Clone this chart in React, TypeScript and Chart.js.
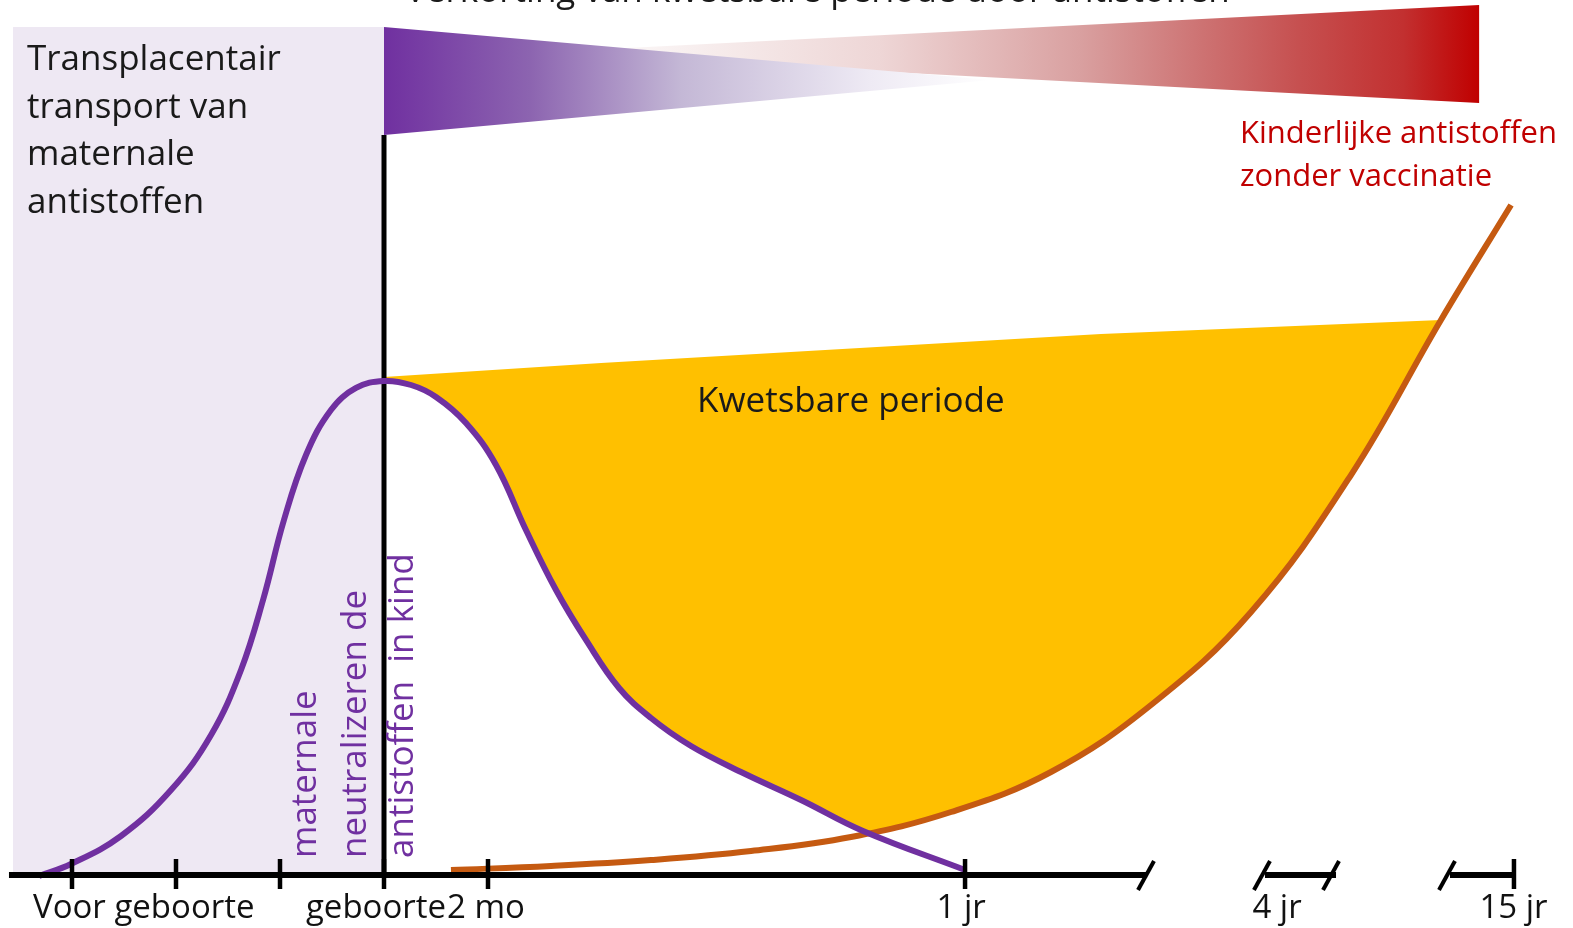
import React, { useEffect, useRef } from "react";
import { Chart, registerables } from "chart.js";

Chart.register(...registerables);

// Timeline: birth = 0, one tick step = 1 unit. Level: 0 = axis, 100 = top of figure.
const purpleX = [-3.317, -3.01, -2.529, -2.048, -1.663, -1.375, -1.163, -0.962, -0.75, -0.51, -0.269, 0, 0.26, 0.5, 0.788, 1.077, 1.365, 1.654, 1.942, 2.26, 2.567, 2.952, 3.433, 4.01, 4.606, 5.587];
const purpleY = [-0.11, 1.26, 4.46, 9.71, 16.0, 23.43, 31.43, 40.57, 48.0, 53.14, 55.66, 56.46, 56.0, 54.63, 51.66, 46.86, 39.43, 32.57, 26.86, 21.37, 17.94, 14.74, 11.77, 8.57, 5.03, 0.57];

const orangeX = [0.644, 1.606, 2.567, 3.529, 4.49, 5.452, 6.413, 7.375, 8.337, 9.298, 10.163, 10.837];
const orangeY = [0.57, 1.03, 1.71, 2.74, 4.34, 7.2, 11.77, 19.43, 30.06, 45.71, 63.43, 76.57];

const gapTopX = [0, 2.087, 6.894, 10.163];
const gapTopY = [56.91, 58.51, 61.83, 63.43];

const tickPositions = [-3, -2, -1, 0, 1, 5.587, 10.865];
const axisLabels = ["Voor geboorte", "geboorte", "2 mo", "1 jr", "4 jr", "15 jr"];
const axisLabelPositions = [-2.31, -0.077, 0.98, 5.55, 8.587, 10.86];
const axisSegmentStarts = [-3.606, 8.471, 10.25];
const axisSegmentEnds = [7.337, 9.154, 10.865];
const breakPositions = [7.327, 8.442, 9.106, 10.221];

const leftTextLines = ["Transplacentair", "transport van", "maternale", "antistoffen"];
const rotatedTexts = ["maternale", "neutralizeren de", "antistoffen  in kind"];
const childTextLines = ["Kinderlijke antistoffen", "zonder vaccinatie"];
const gapLabel = "Kwetsbare periode";
const titleText = "Verkorting van kwetsbare periode door antistoffen";

const PURPLE = "#7030A0";
const ORANGE = "#C55A11";
const YELLOW = "#FFC000";
const LAVENDER = "#EEE8F3";
const RED = "#C00000";
const FONT = '"Open Sans", "DejaVu Sans", sans-serif';

const pts = (xs: number[], ys: number[]) => xs.map((x, i) => ({ x, y: ys[i] }));

const overlay = {
  id: "overlay",
  beforeDatasetsDraw(chart: any) {
    const { ctx } = chart;
    const X = (v: number) => chart.scales.x.getPixelForValue(v);
    const Y = (v: number) => chart.scales.y.getPixelForValue(v);
    ctx.save();
    // lavender prenatal region
    ctx.fillStyle = LAVENDER;
    ctx.fillRect(X(-3.567), Y(96.91), X(0) - X(-3.567), Y(0) - Y(96.91));

    // red wedge (child antibodies)
    const rg = ctx.createLinearGradient(X(1.385), 0, X(10.53), 0);
    rg.addColorStop(0, "#FFFFFF");
    rg.addColorStop(0.16, "#F8F0F0");
    rg.addColorStop(0.37, "#EED6D6");
    rg.addColorStop(0.58, "#D9A0A0");
    rg.addColorStop(0.71, "#CD7272");
    rg.addColorStop(0.81, "#C65050");
    rg.addColorStop(0.92, "#C23030");
    rg.addColorStop(1, RED);
    ctx.fillStyle = rg;
    ctx.beginPath();
    ctx.moveTo(X(1.385), Y(93.94));
    ctx.lineTo(X(10.53), Y(99.43));
    ctx.lineTo(X(10.53), Y(88.23));
    ctx.closePath();
    ctx.fill();

    // purple wedge (maternal antibodies)
    const pg = ctx.createLinearGradient(X(0), 0, X(5.84), 0);
    pg.addColorStop(0, PURPLE);
    pg.addColorStop(0.24, "#8C64B0");
    pg.addColorStop(0.49, "#C4B8D6");
    pg.addColorStop(0.8, "#EEEAF4");
    pg.addColorStop(1, "#FFFFFF");
    ctx.fillStyle = pg;
    ctx.beginPath();
    ctx.moveTo(X(0), Y(96.91));
    ctx.lineTo(X(5.84), Y(90.86));
    ctx.lineTo(X(0), Y(84.57));
    ctx.closePath();
    ctx.fill();
    ctx.restore();
  },
  afterDatasetDraw(chart: any, args: any) {
    if (args.index !== 2) return;
    const { ctx } = chart;
    const X = (v: number) => chart.scales.x.getPixelForValue(v);
    const Y = (v: number) => chart.scales.y.getPixelForValue(v);
    ctx.save();
    ctx.strokeStyle = "#000";
    ctx.lineWidth = 5;
    ctx.beginPath();
    ctx.moveTo(X(0), Y(84.57));
    ctx.lineTo(X(0), Y(0));
    ctx.stroke();
    ctx.restore();
  },
  afterDatasetsDraw(chart: any) {
    const { ctx } = chart;
    const X = (v: number) => chart.scales.x.getPixelForValue(v);
    const Y = (v: number) => chart.scales.y.getPixelForValue(v);
    const y0 = Y(0);
    ctx.save();
    // axis segments
    ctx.strokeStyle = "#000";
    ctx.lineWidth = 6;
    ctx.lineCap = "butt";
    axisSegmentStarts.forEach((s, i) => {
      ctx.beginPath();
      ctx.moveTo(X(s), y0);
      ctx.lineTo(X(axisSegmentEnds[i]), y0);
      ctx.stroke();
    });
    // ticks
    ctx.lineWidth = 4.5;
    tickPositions.forEach((t) => {
      ctx.beginPath();
      ctx.moveTo(X(t), y0 - 16);
      ctx.lineTo(X(t), y0 + 14);
      ctx.stroke();
    });
    // break slashes
    ctx.lineWidth = 4;
    breakPositions.forEach((b) => {
      ctx.beginPath();
      ctx.moveTo(X(b) - 8, y0 + 15);
      ctx.lineTo(X(b) + 8, y0 - 14);
      ctx.stroke();
    });
    // axis labels
    ctx.fillStyle = "#111";
    ctx.font = `33px ${FONT}`;
    ctx.textAlign = "center";
    ctx.textBaseline = "alphabetic";
    axisLabels.forEach((l, i) => ctx.fillText(l, X(axisLabelPositions[i]), y0 + 43));

    // left block text
    ctx.textAlign = "left";
    ctx.font = `35px ${FONT}`;
    ctx.fillStyle = "#1a1a1a";
    leftTextLines.forEach((l, i) => ctx.fillText(l, 27, 70 + i * 47.7));

    // title (cropped at top)
    ctx.fillText(titleText, 405, 2);

    // vulnerable period label
    ctx.fillText(gapLabel, 697, 412);

    // child antibodies label
    ctx.fillStyle = RED;
    ctx.font = `31px ${FONT}`;
    childTextLines.forEach((l, i) => ctx.fillText(l, 1240, 143 + i * 43));

    // rotated purple labels
    ctx.fillStyle = PURPLE;
    ctx.font = `35px ${FONT}`;
    const baseXs = [316, 366, 413];
    rotatedTexts.forEach((t, i) => {
      ctx.save();
      ctx.translate(baseXs[i], 858);
      ctx.rotate(-Math.PI / 2);
      ctx.fillText(t, 0, 0);
      ctx.restore();
    });
    ctx.restore();
  },
};

export default function App() {
  const ref = useRef<HTMLCanvasElement>(null);
  useEffect(() => {
    const purple = pts(purpleX, purpleY);
    const purpleAfterBirth = purple.filter((p) => p.x >= 0);
    const chart = new Chart(ref.current as HTMLCanvasElement, {
      type: "line",
      data: {
        datasets: [
          {
            label: "Maternale antistoffen",
            data: purple,
            borderColor: PURPLE,
            borderWidth: 6,
            tension: 0.4,
            fill: false,
            pointRadius: 0,
          },
          {
            label: "Kinderlijke antistoffen",
            data: pts(orangeX, orangeY),
            borderColor: ORANGE,
            borderWidth: 6,
            tension: 0.4,
            fill: "origin",
            backgroundColor: "#FFFFFF",
            pointRadius: 0,
          },
          {
            label: "mask",
            data: purpleAfterBirth,
            borderColor: "rgba(0,0,0,0)",
            borderWidth: 1,
            tension: 0.4,
            fill: "origin",
            backgroundColor: "#FFFFFF",
            pointRadius: 0,
          },
          {
            label: "Kwetsbare periode",
            data: pts(gapTopX, gapTopY),
            borderColor: "rgba(0,0,0,0)",
            borderWidth: 1,
            tension: 0,
            fill: "origin",
            backgroundColor: YELLOW,
            pointRadius: 0,
          },
        ],
      } as any,
      options: {
        animation: false,
        responsive: false,
        devicePixelRatio: 1,
        layout: { padding: 0 },
        parsing: false as any,
        normalized: true,
        scales: {
          x: { type: "linear", min: -384 / 104, max: (1573 - 384) / 104, display: false },
          y: { type: "linear", min: (875 - 928) / 8.75, max: 100, display: false },
        },
        plugins: { legend: { display: false }, tooltip: { enabled: false } },
      } as any,
      plugins: [overlay as any],
    });
    return () => chart.destroy();
  }, []);
  return (
    <div style={{ position: "fixed", left: 0, top: 0, width: 1573, height: 928, background: "#fff" }}>
      <canvas ref={ref} width={1573} height={928} style={{ display: "block", width: 1573, height: 928 }} />
    </div>
  );
}
